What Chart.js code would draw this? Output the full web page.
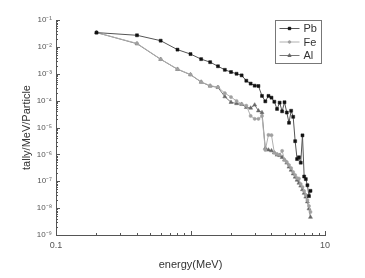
<!DOCTYPE html>
<html>
<head>
<meta charset="utf-8">
<script src="https://cdn.jsdelivr.net/npm/chart.js@4"></script>
<style>
body { margin: 0; background: #fff; }
</style>
</head>
<body>
<canvas id="chart" width="365" height="278"></canvas>
<script>
// energy bins (MeV)
const energy = [0.2, 0.4, 0.6, 0.8, 1.0, 1.2, 1.4, 1.6, 1.8, 2.0,
    2.2, 2.4, 2.6, 2.8, 3.0, 3.2, 3.4, 3.6, 3.8, 4.0,
    4.2, 4.4, 4.6, 4.8, 5.0, 5.2, 5.4, 5.6, 5.8, 6.0,
    6.2, 6.4, 6.6, 6.8, 7.0, 7.2, 7.4, 7.6, 7.8];

const pbTally = [3.4e-2, 2.7e-2, 1.7e-2, 7.9e-3, 5.4e-3, 3.5e-3, 2.7e-3, 1.9e-3, 1.4e-3, 1.16e-3,
    1.0e-3, 8.7e-4, 5.5e-4, 4.3e-4, 3.6e-4, 3.5e-4, 1.5e-4, 9.4e-5, 1.5e-4, 1.29e-4,
    9.1e-5, 4.9e-5, 8.4e-5, 4.0e-5, 8.7e-5, 3.6e-5, 1.5e-5, 4.2e-5, 2.5e-5, 3.1e-6,
    6.7e-7, 7.8e-7, 4.9e-7, 5.1e-6, 1.5e-7, 1.2e-7, 7.1e-8, 2.8e-8, 4.4e-8];

const feTally = [3.4e-2, 1.35e-2, 3.5e-3, 1.5e-3, 9.4e-4, 5.0e-4, 3.6e-4, 3.2e-4, 1.9e-4, 1.36e-4,
    9.7e-5, 7.5e-5, 6.5e-5, 2.7e-5, 2.1e-5, 2.1e-5, 2.7e-5, 1.46e-6, 5.3e-6, 5.2e-6,
    1.15e-6, 1.03e-6, 9.5e-7, 1.35e-6, 6.2e-7, 5.2e-7, 4.0e-7, 3.1e-7, 2.2e-7, 1.7e-7,
    1.3e-7, 1.26e-7, 7.9e-8, 6.1e-8, 4.3e-8, 3.1e-8, 2.0e-8, 1.2e-8, 7.2e-9];

const alTally = [3.4e-2, 1.31e-2, 3.45e-3, 1.47e-3, 9.2e-4, 4.9e-4, 3.5e-4, 3.1e-4, 1.4e-4, 8.7e-5,
    7.8e-5, 7.3e-5, 5.6e-5, 5.3e-5, 6.9e-5, 4.2e-5, 3.6e-5, 1.7e-6, 1.46e-6, 1.37e-6,
    1.15e-6, 9.5e-7, 9.1e-7, 7.8e-7, 6.2e-7, 4.8e-7, 3.4e-7, 2.6e-7, 1.9e-7, 1.44e-7,
    1.11e-7, 8.6e-8, 6.7e-8, 4.9e-8, 3.6e-8, 2.6e-8, 1.73e-8, 9.5e-9, 4.6e-9];

const seriesNames = ['Pb', 'Fe', 'Al'];

// axis ticks
const xMajorTicks = [0.1, 1, 10];
const xTickLabels = ['0.1', '', '10'];
const yExponents = [-1, -2, -3, -4, -5, -6, -7, -8, -9];

const supMap = { '-': '\u207B', '0': '\u2070', '1': '\u00B9', '2': '\u00B2', '3': '\u00B3',
    '4': '\u2074', '5': '\u2075', '6': '\u2076', '7': '\u2077', '8': '\u2078', '9': '\u2079' };

function sup(n) {
    return String(n).split('').map(c => supMap[c]).join('');
}

function toPoints(values) {
    return energy.map((e, i) => ({ x: e, y: values[i] }));
}

function minorValues(min, max) {
    const out = [];
    for (let d = Math.log10(min); d < Math.log10(max); d++) {
        for (let k = 2; k <= 9; k++) out.push(k * Math.pow(10, d));
    }
    return out;
}

const axisColor = '#555';

const tickPlugin = {
    id: 'inwardTicks',
    afterDraw(chart) {
        const ctx = chart.ctx;
        const xs = chart.scales.x;
        const ys = chart.scales.y;
        const area = chart.chartArea;
        ctx.save();
        ctx.strokeStyle = axisColor;
        ctx.lineWidth = 1;
        ctx.beginPath();
        xMajorTicks.forEach(v => {
            const px = Math.round(xs.getPixelForValue(v)) + 0.5;
            ctx.moveTo(px, area.bottom);
            ctx.lineTo(px, area.bottom - 4);
        });
        minorValues(0.1, 10).forEach(v => {
            const px = Math.round(xs.getPixelForValue(v)) + 0.5;
            ctx.moveTo(px, area.bottom);
            ctx.lineTo(px, area.bottom - 2);
        });
        yExponents.forEach(e => {
            const py = Math.round(ys.getPixelForValue(Math.pow(10, e))) + 0.5;
            ctx.moveTo(area.left, py);
            ctx.lineTo(area.left + 4, py);
        });
        minorValues(1e-9, 1e-1).forEach(v => {
            const py = Math.round(ys.getPixelForValue(v)) + 0.5;
            ctx.moveTo(area.left, py);
            ctx.lineTo(area.left + 2, py);
        });
        ctx.stroke();

        // legend box
        const bx = 275.5, by = 20.5, bw = 46, bh = 43;
        ctx.strokeStyle = '#777';
        ctx.strokeRect(bx, by, bw, bh);
        ctx.font = '11px "Liberation Sans", Arial, sans-serif';
        ctx.textBaseline = 'middle';
        chart.data.datasets.forEach((ds, i) => {
            const y = 28.5 + i * 13.5;
            ctx.strokeStyle = ds.borderColor;
            ctx.beginPath();
            ctx.moveTo(bx + 4, y);
            ctx.lineTo(bx + 24, y);
            ctx.stroke();
            ctx.fillStyle = ds.pointBackgroundColor;
            ctx.strokeStyle = ds.pointBorderColor;
            Chart.helpers.drawPoint(ctx, {
                pointStyle: ds.pointStyle,
                rotation: 0,
                radius: ds.pointRadius * 0.8,
                borderWidth: 0.5
            }, bx + 14, y);
            ctx.fillStyle = '#333';
            ctx.fillText(ds.label, bx + 28, y + 0.5);
        });
        ctx.restore();
    }
};

function makeDataset(label, values, lineColor, pointColor, style, radius) {
    return {
        label: label,
        data: toPoints(values),
        showLine: true,
        borderColor: lineColor,
        borderWidth: 1,
        pointStyle: style,
        pointRadius: radius,
        pointBackgroundColor: pointColor,
        pointBorderColor: pointColor,
        pointBorderWidth: 0.5,
        tension: 0
    };
}

const data = {
    datasets: [
        makeDataset(seriesNames[0], pbTally, '#555', '#111', 'rect', 2.1),
        makeDataset(seriesNames[1], feTally, '#b0b0b0', '#a0a0a0', 'circle', 1.6),
        makeDataset(seriesNames[2], alTally, '#777', '#666', 'triangle', 2.3)
    ]
};

new Chart(document.getElementById('chart'), {
    type: 'scatter',
    data: data,
    options: {
        responsive: false,
        animation: false,
        layout: { padding: { left: 0, right: 40, top: 20, bottom: 0 } },
        plugins: { legend: { display: false }, tooltip: { enabled: false } },
        scales: {
            x: {
                type: 'logarithmic',
                min: 0.1,
                max: 10,
                afterBuildTicks: scale => {
                    scale.ticks = xMajorTicks.map(v => ({ value: v, major: true }));
                },
                afterFit: scale => { scale.height = 43; },
                ticks: {
                    autoSkip: false,
                    maxRotation: 0,
                    padding: 5,
                    color: '#555',
                    font: { family: '"Liberation Sans", Arial, sans-serif', size: 9 },
                    callback: (value, index) => xTickLabels[index]
                },
                grid: { display: true, drawOnChartArea: false, drawTicks: false },
                border: { display: true, color: axisColor, width: 1 },
                title: {
                    display: true,
                    text: 'energy(MeV)',
                    color: '#333',
                    font: { family: '"Liberation Sans", Arial, sans-serif', size: 11 },
                    padding: { top: 0, bottom: 6 }
                }
            },
            y: {
                type: 'logarithmic',
                min: 1e-9,
                max: 1e-1,
                afterBuildTicks: scale => {
                    scale.ticks = yExponents.map(e => ({ value: Math.pow(10, e), major: true }));
                },
                afterFit: scale => { scale.width = 56; },
                ticks: {
                    autoSkip: false,
                    padding: 4,
                    color: '#555',
                    font: { family: '"Liberation Sans", Arial, sans-serif', size: 8 },
                    callback: (value, index) => '10' + sup(yExponents[index])
                },
                grid: { display: true, drawOnChartArea: false, drawTicks: false },
                border: { display: true, color: axisColor, width: 1 },
                title: {
                    display: true,
                    text: 'tally/MeV/Particle',
                    color: '#333',
                    font: { family: '"Liberation Sans", Arial, sans-serif', size: 11 },
                    padding: { top: 20, bottom: 0 }
                }
            }
        }
    },
    plugins: [tickPlugin]
});
</script>
</body>
</html>
